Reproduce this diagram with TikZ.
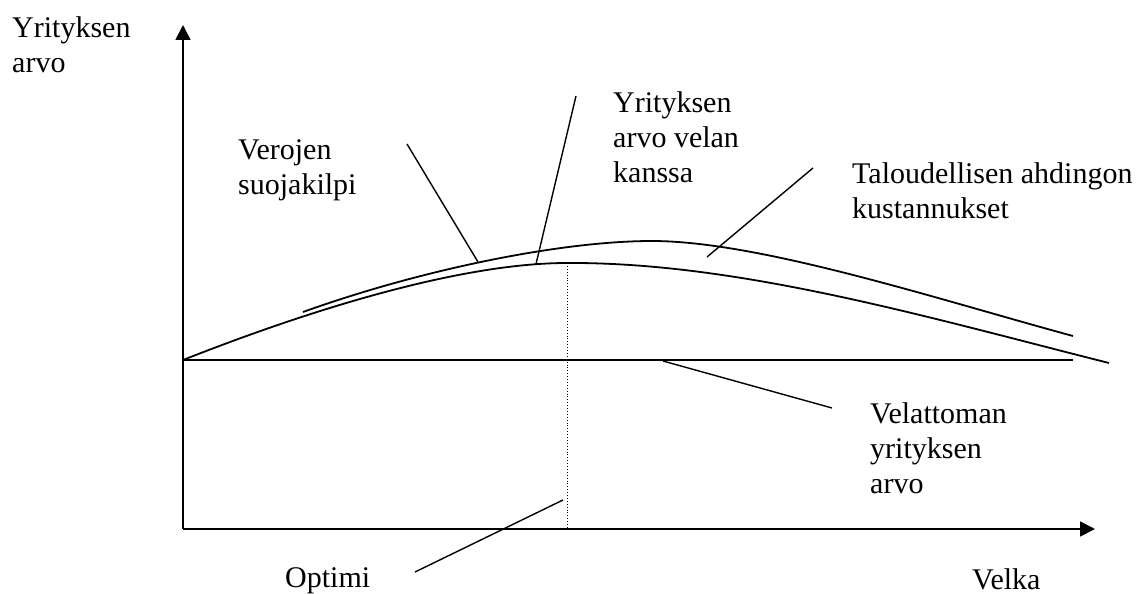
\documentclass[tikz,border=0pt]{standalone}
\usepackage{fontspec}
\setmainfont{Liberation Serif}
\usetikzlibrary{arrows.meta}
\begin{document}
\begin{tikzpicture}[x=1pt,y=-1pt,
  axis/.style={line width=1.8pt,-{Triangle[length=15pt,width=15pt]}},
  curve/.style={line width=1.8pt},
  leader/.style={line width=1.4pt},
  optline/.style={line width=0.9pt,dotted},
  lbl/.style={anchor=base west,inner sep=0pt,align=left,
    font=\fontsize{30pt}{35pt}\selectfont},
]
\useasboundingbox (0,0) rectangle (1144,594);

% axes
\coordinate (O) at (183,529);
\coordinate (ytip) at (183,25);
\coordinate (xtip) at (1095,529);
\draw[axis] (O) -- (ytip);
\draw[axis] (O) -- (xtip);

% value of the unlevered firm
\coordinate (u0) at (183,360);
\coordinate (u1) at (1073,360);
\draw[curve] (u0) -- (u1);

% value with tax shield only
\coordinate (ts0) at (303,312);
\coordinate (tspeak) at (652,241);
\coordinate (ts1) at (1073,336);
\draw[curve] (ts0) .. controls (420,270) and (560,241) .. (tspeak)
  .. controls (760,241) and (940,300) .. (ts1);

% value with debt (tax shield minus distress costs)
\coordinate (lpeak) at (567,263);
\coordinate (l1) at (1109,363);
\draw[curve] (u0) .. controls (330,302) and (470,263) .. (lpeak)
  .. controls (740,262) and (930,318) .. (l1);

% optimum marker
\coordinate (lfoot) at (567,529);
\draw[optline] (lpeak) -- (lfoot);

% labels (base anchor sits on the last line)
\node[lbl] (yaxis) at (12,73) {Yrityksen\\arvo};
\node[lbl] (vero) at (238,194) {Verojen\\suojakilpi};
\node[lbl] (yarvo) at (613,182) {Yrityksen\\arvo velan\\kanssa};
\node[lbl] (talous) at (852,218) {Taloudellisen ahdingon\\kustannukset};
\node[lbl] (velaton) at (870,493) {Velattoman\\yrityksen\\arvo};
\node[lbl] (optimi) at (285,587) {Optimi};
\node[lbl] (velka) at (972,589) {Velka};

% leader lines
\coordinate (verA) at (407,144);
\coordinate (verB) at (478,262);
\coordinate (yrA) at (576,96);
\coordinate (yrB) at (536,264);
\coordinate (talA) at (813,168);
\coordinate (talB) at (707,257);
\coordinate (velA) at (663,361);
\coordinate (velB) at (832,408);
\coordinate (optA) at (415,572);
\coordinate (optB) at (563,500);
\draw[leader] (verA) -- (verB);
\draw[leader] (yrA) -- (yrB);
\draw[leader] (talA) -- (talB);
\draw[leader] (velA) -- (velB);
\draw[leader] (optA) -- (optB);
\end{tikzpicture}
\end{document}
